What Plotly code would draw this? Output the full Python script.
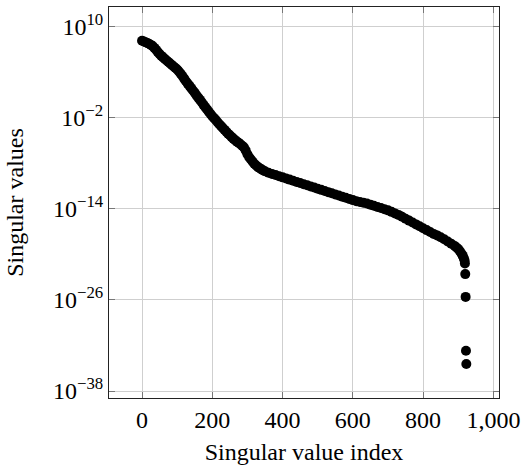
import numpy as np
import plotly.graph_objects as go

# Singular value spectrum: index and log10 of the singular value
index = [
    0, 5, 10, 15, 20, 25, 30, 35, 40, 45, 50, 55, 60, 65, 70, 75, 80, 85, 90, 95,
    100, 105, 110, 115, 120, 125, 130, 135, 140, 145, 150, 155, 160, 165, 170, 175,
    180, 185, 190, 195, 200, 205, 210, 215, 220, 225, 230, 235, 240, 245, 250, 255,
    260, 265, 270, 275, 280, 285, 290, 295, 300, 305, 310, 315, 320, 325, 330, 335,
    340, 345, 350, 360, 370, 380, 390, 400, 410, 420, 430, 440, 450, 460, 470, 480,
    490, 500, 510, 520, 530, 540, 550, 560, 570, 580, 590, 600, 610, 620, 630, 640,
    650, 660, 670, 680, 690, 700, 710, 720, 730, 740, 750, 760, 770, 780, 790, 800,
    810, 820, 830, 840, 850, 860, 870, 880, 890, 895, 900, 905, 910, 913, 916, 918,
    919, 920, 921, 922, 923,
]
log10_sigma = [
    8.15, 8.05, 7.95, 7.85, 7.75, 7.6, 7.45, 7.2, 6.95, 6.65, 6.4, 6.15, 5.95, 5.75,
    5.55, 5.35, 5.15, 4.95, 4.75, 4.55,
    4.35, 4.1, 3.8, 3.5, 3.15, 2.8, 2.5, 2.2, 1.9, 1.6, 1.3, 0.95, 0.65, 0.35, 0.05,
    -0.3,
    -0.6, -0.9, -1.2, -1.5, -1.8, -2.05, -2.3, -2.6, -2.85, -3.1, -3.35, -3.6, -3.85,
    -4.1, -4.3, -4.55,
    -4.75, -4.95, -5.15, -5.3, -5.5, -5.7, -5.9, -6.3, -6.8, -7.2, -7.5, -7.8, -8.1,
    -8.3, -8.5, -8.65,
    -8.8, -8.95, -9.05, -9.25, -9.4, -9.55, -9.7, -9.85, -10.0, -10.15, -10.3, -10.45,
    -10.6, -10.75, -10.9, -11.05,
    -11.2, -11.35, -11.5, -11.65, -11.8, -11.95, -12.1, -12.25, -12.4, -12.55, -12.7,
    -12.85, -13.0, -13.1, -13.2, -13.3,
    -13.45, -13.6, -13.75, -13.9, -14.05, -14.2, -14.4, -14.6, -14.8, -15.05, -15.3,
    -15.55, -15.8, -16.05, -16.3, -16.55,
    -16.8, -17.05, -17.3, -17.5, -17.75, -18.0, -18.3, -18.6, -18.9, -19.1, -19.3,
    -19.6, -19.95, -20.2, -20.5, -20.8,
    -21.2, -22.6, -25.6, -32.7, -34.45,
]

sigma = 10.0 ** np.array(log10_sigma)

x_tickvals = [0, 200, 400, 600, 800, 1000]
x_ticktext = ["0", "200", "400", "600", "800", "1,000"]
y_exponents = [10, -2, -14, -26, -38]

FONT = "Liberation Serif"

fig = go.Figure(
    go.Scatter(
        x=index,
        y=sigma,
        mode="markers",
        marker=dict(size=10, color="black", line=dict(width=0)),
        showlegend=False,
        hoverinfo="skip",
    )
)

axis_common = dict(
    showgrid=True,
    gridcolor="#cfcfcf",
    gridwidth=1,
    zeroline=False,
    showline=True,
    linecolor="#222222",
    linewidth=1,
    mirror="ticks",
    ticks="inside",
    ticklen=6,
    tickwidth=1,
    tickcolor="#777777",
    tickfont=dict(family=FONT, size=24, color="black"),
)

fig.update_xaxes(
    range=[-94, 1016],
    tickvals=x_tickvals,
    ticktext=x_ticktext,
    title=dict(text="Singular value index", font=dict(family=FONT, size=24, color="black"), standoff=11),
    **axis_common,
)
fig.update_yaxes(
    type="log",
    range=[-38.92, 12.59],
    tickvals=[10.0 ** e for e in y_exponents],
    ticktext=[f"10<sup>{'−' if e < 0 else ''}{abs(e)}</sup>" for e in y_exponents],
    title=dict(text="Singular values", font=dict(family=FONT, size=24, color="black"), standoff=22),
    **axis_common,
)

fig.update_layout(
    width=526,
    height=472,
    margin=dict(l=109, r=25, t=6, b=74),
    paper_bgcolor="white",
    plot_bgcolor="white",
    font=dict(family=FONT, color="black"),
)

fig.write_html("out.html")
